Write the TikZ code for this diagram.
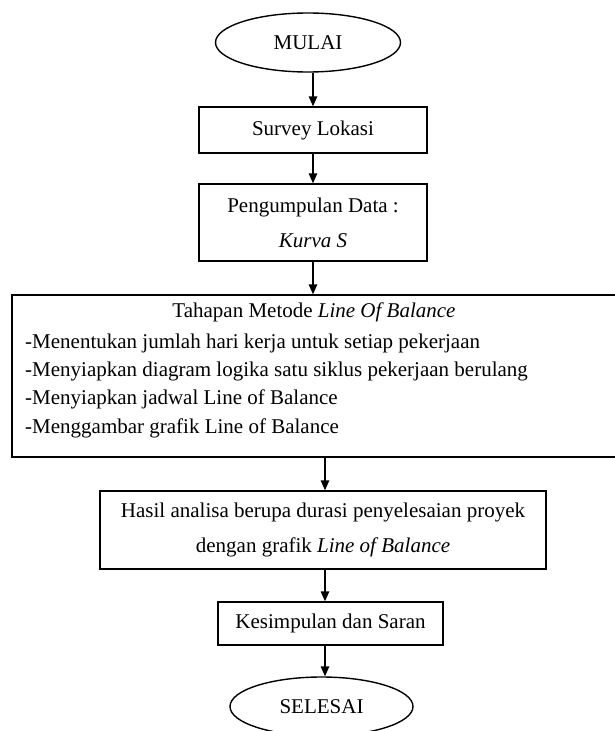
\documentclass[tikz,border=0pt]{standalone}
\usepackage{fontspec}
\setmainfont{Liberation Serif}
\usetikzlibrary{arrows.meta,shapes.geometric}
\tikzset{
  base/.style={draw=black, line width=1.4pt, font=\fontsize{21}{35}\selectfont, inner sep=0pt},
  term/.style={base, ellipse, minimum width=185pt, minimum height=59pt},
  proc/.style={base, rectangle, align=center},
  txt/.style={font=\fontsize{21}{25}\selectfont, inner sep=0pt},
  flow/.style={-{Triangle[length=10pt,width=8.5pt]}, line width=1.4pt},
}
\begin{document}
\begin{tikzpicture}[x=1pt,y=-1pt]
\useasboundingbox (0,0) rectangle (614,731);
\node[term] (mulai) at (308,42.5) {MULAI};
\node[proc, minimum width=228pt, minimum height=46pt] (survey) at (313,130) {Survey Lokasi};
\node[proc, minimum width=228pt, minimum height=77pt] (data) at (313,222.5) {Pengumpulan Data :\\ \textit{Kurva S}};
\node[proc, minimum width=604pt, minimum height=162pt] (lob) at (314,376) {};
\node[txt] (t0) at (314,312) {Tahapan Metode \textit{Line Of Balance}};
\node[txt, anchor=west] (t1) at (25,343) {-Menentukan jumlah hari kerja untuk setiap pekerjaan};
\node[txt, anchor=west] (t2) at (25,371) {-Menyiapkan diagram logika satu siklus pekerjaan berulang};
\node[txt, anchor=west] (t3) at (25,399) {-Menyiapkan jadwal Line of Balance};
\node[txt, anchor=west] (t4) at (25,428) {-Menggambar grafik Line of Balance};
\node[proc, minimum width=446pt, minimum height=78pt] (hasil) at (323,530) {Hasil analisa berupa durasi penyelesaian proyek\\ dengan grafik \textit{Line of Balance}};
\node[proc, minimum width=225pt, minimum height=43pt] (kes) at (330.5,623.5) {Kesimpulan dan Saran};
\node[term, minimum width=183pt] (selesai) at (321.5,706.5) {SELESAI};

\draw[flow] (mulai.south -| survey.north) -- (survey.north);
\draw[flow] (survey.south) -- (data.north);
\draw[flow] (data.south) -- (data.south |- lob.north);
\draw[flow] ([xshift=2pt]hasil.north |- lob.south) -- ([xshift=2pt]hasil.north);
\draw[flow] ([xshift=2pt]hasil.south) -- ([xshift=2pt]hasil.south |- kes.north);
\draw[flow] ([xshift=2pt]hasil.south |- kes.south) -- ([xshift=2pt]hasil.south |- selesai.north);
\end{tikzpicture}
\end{document}
